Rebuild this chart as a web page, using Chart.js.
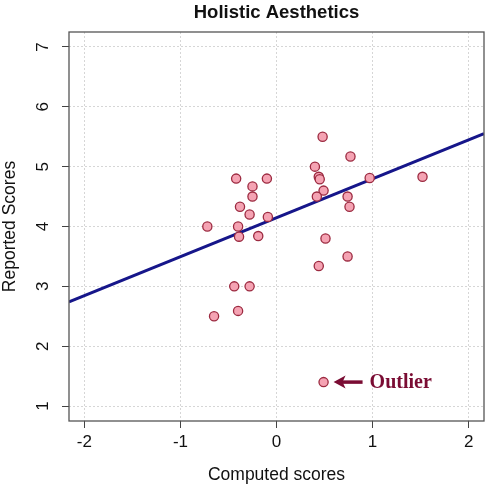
<!DOCTYPE html>
<html>
<head>
<meta charset="utf-8">
<script src="https://cdn.jsdelivr.net/npm/chart.js@4/dist/chart.umd.min.js"></script>
<style>
  html, body { margin: 0; padding: 0; background: #fff; }
  #wrap { width: 492px; height: 486px; }
</style>
</head>
<body>
<div id="wrap"><canvas id="scatterChart" width="492" height="486"></canvas></div>
<script>
// values
const computedScores = [0.48, 0.77, 0.40, 0.44, 0.45, 0.97, 1.52, 0.49, 0.42, 0.74, 0.76, 0.51, 0.74, 0.44,
    -0.42, -0.10, -0.25, -0.25, -0.38, -0.28, -0.09, -0.72, -0.40, -0.39, -0.19, -0.44, -0.28, -0.65, -0.40];
const reportedScores = [5.50, 5.17, 5.00, 4.83, 4.79, 4.81, 4.83, 4.60, 4.50, 4.50, 4.33, 3.80, 3.50, 3.34,
    4.80, 4.80, 4.67, 4.50, 4.33, 4.20, 4.16, 4.00, 4.00, 3.83, 3.84, 3.00, 3.00, 2.50, 2.59];
const outlierX = [0.49];
const outlierY = [1.40];
const fitLineX = [-2.16, 2.16];
const fitLineY = [2.74, 5.55];
const xTicks = [-2, -1, 0, 1, 2];
const yTicks = [1, 2, 3, 4, 5, 6, 7];

const sansFont = '"Liberation Sans", Arial, sans-serif';

const annotatePlugin = {
    id: 'annotate',
    afterDraw(chart) {
        const ctx = chart.ctx;
        const area = chart.chartArea;
        const xs = chart.scales.x;
        const ys = chart.scales.y;

        // plot box
        ctx.save();
        ctx.strokeStyle = '#555';
        ctx.lineWidth = 1.3;
        ctx.strokeRect(area.left, area.top, area.right - area.left, area.bottom - area.top);

        // y tick labels, rotated like R
        ctx.fillStyle = '#111';
        ctx.font = '17px ' + sansFont;
        ctx.textAlign = 'center';
        ctx.textBaseline = 'middle';
        yTicks.forEach(v => {
            ctx.save();
            ctx.translate(43, ys.getPixelForValue(v));
            ctx.rotate(-Math.PI / 2);
            ctx.fillText(String(v), 0, 0);
            ctx.restore();
        });

        // title
        ctx.font = 'bold 18.5px ' + sansFont;
        ctx.fillText('Holistic Aesthetics', (area.left + area.right) / 2, 13);

        // outlier arrow + label
        const px = xs.getPixelForValue(outlierX[0]);
        const py = ys.getPixelForValue(outlierY[0]);
        ctx.strokeStyle = '#7a0c33';
        ctx.fillStyle = '#7a0c33';
        ctx.lineWidth = 3.5;
        ctx.beginPath();
        ctx.moveTo(px + 18, py);
        ctx.lineTo(px + 39, py);
        ctx.stroke();
        ctx.beginPath();
        ctx.moveTo(px + 10, py);
        ctx.lineTo(px + 22, py - 6.5);
        ctx.lineTo(px + 19, py);
        ctx.lineTo(px + 22, py + 6.5);
        ctx.closePath();
        ctx.fill();
        ctx.font = 'bold 20px "Liberation Serif", "Times New Roman", serif';
        ctx.textAlign = 'left';
        ctx.fillText('Outlier', px + 46, py + 1);
        ctx.restore();
    }
};

function initializeScatter() {
    const ctx = document.getElementById('scatterChart').getContext('2d');
    const pointStyle = {
        type: 'scatter',
        backgroundColor: '#f5a3b3',
        borderColor: '#9c2a40',
        borderWidth: 1.3,
        pointRadius: 4.6,
        pointHoverRadius: 4.6
    };
    const gridOpts = {
        color: '#d6d6d6',
        tickColor: '#444',
        tickBorderDash: [],
        tickLength: 7,
        tickWidth: 1
    };

    new Chart(ctx, {
        data: {
            datasets: [
                {
                    type: 'line',
                    label: 'fit',
                    data: fitLineX.map((x, i) => ({ x: x, y: fitLineY[i] })),
                    borderColor: '#16168a',
                    borderWidth: 3,
                    pointRadius: 0,
                    fill: false,
                    order: 2
                },
                Object.assign({
                    label: 'scores',
                    data: computedScores.map((x, i) => ({ x: x, y: reportedScores[i] })),
                    order: 1
                }, pointStyle),
                Object.assign({
                    label: 'outlier',
                    data: outlierX.map((x, i) => ({ x: x, y: outlierY[i] })),
                    order: 1
                }, pointStyle)
            ]
        },
        options: {
            responsive: false,
            animation: false,
            layout: { padding: { top: 32, right: 8, bottom: 0, left: 0 } },
            plugins: {
                legend: { display: false },
                tooltip: { enabled: false },
                title: { display: false }
            },
            scales: {
                x: {
                    type: 'linear',
                    min: -2.16,
                    max: 2.16,
                    afterBuildTicks: s => { s.ticks = xTicks.map(v => ({ value: v })); },
                    afterFit: s => { s.height = 65; },
                    grid: gridOpts,
                    border: { display: false, dash: [2, 2] },
                    ticks: {
                        color: '#111',
                        font: { family: sansFont, size: 17 },
                        padding: 4,
                        maxRotation: 0
                    },
                    title: {
                        display: true,
                        text: 'Computed scores',
                        color: '#111',
                        font: { family: sansFont, size: 17.5 },
                        padding: { top: 0, bottom: 0 }
                    }
                },
                y: {
                    type: 'linear',
                    min: 0.75,
                    max: 7.25,
                    afterBuildTicks: s => { s.ticks = yTicks.map(v => ({ value: v })); },
                    afterFit: s => { s.width = 69; },
                    grid: gridOpts,
                    border: { display: false, dash: [2, 2] },
                    ticks: { display: false },
                    title: {
                        display: true,
                        text: 'Reported Scores',
                        color: '#111',
                        font: { family: sansFont, size: 17.5 },
                        padding: { top: 0, bottom: 0 }
                    }
                }
            }
        },
        plugins: [annotatePlugin]
    });
}

document.addEventListener('DOMContentLoaded', () => {
    initializeScatter();
});
</script>
</body>
</html>
